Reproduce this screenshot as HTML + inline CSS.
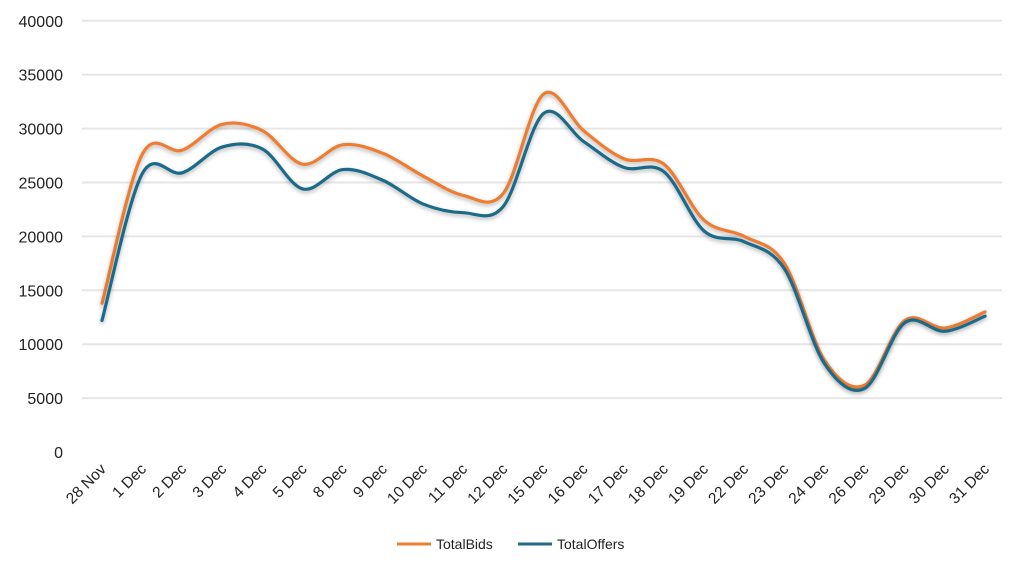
<!DOCTYPE html>
<html><head><meta charset="utf-8"><style>
body{margin:0;background:#fff;}
svg{display:block;font-family:"Liberation Sans",sans-serif;}
</style></head><body>
<svg id="c" width="1024" height="570" xmlns="http://www.w3.org/2000/svg">
<defs><filter id="sh" x="-5%" y="-5%" width="110%" height="120%"><feDropShadow dx="0" dy="2" stdDeviation="2" flood-color="#000" flood-opacity="0.3"/></filter></defs>
<g id="grid"></g><g id="ylab" font-size="16" fill="#222" text-anchor="end"></g>
<g id="xlab" font-size="15.5" fill="#222" text-anchor="end"></g>
<g id="lines"></g>
<g font-size="14" fill="#222">
<line x1="397" y1="544" x2="431" y2="544" stroke="#ED7D31" stroke-width="3"/>
<text x="436" y="549">TotalBids</text>
<line x1="518" y1="544" x2="552" y2="544" stroke="#1F6B8A" stroke-width="3"/>
<text x="557" y="549">TotalOffers</text>
</g>
</svg>
<script>
var NS="http://www.w3.org/2000/svg";
function el(p,t,a,txt){var e=document.createElementNS(NS,t);for(var k in a)e.setAttribute(k,a[k]);if(txt)e.textContent=txt;document.getElementById(p).appendChild(e);return e;}
function Y(v){return 452-v/5000*53.9;}
for(var v=5000;v<=40000;v+=5000){el("grid","line",{x1:82,x2:1002,y1:Y(v),y2:Y(v),stroke:"#e6e6e6","stroke-width":2});}
for(var v=0;v<=40000;v+=5000){el("ylab","text",{x:63,y:Y(v)+6},String(v));}
var L=["28 Nov","1 Dec","2 Dec","3 Dec","4 Dec","5 Dec","8 Dec","9 Dec","10 Dec","11 Dec","12 Dec","15 Dec","16 Dec","17 Dec","18 Dec","19 Dec","22 Dec","23 Dec","24 Dec","26 Dec","29 Dec","30 Dec","31 Dec"];
function X(i){return 102+i*40.14;}
L.forEach(function(s,i){var x=X(i)+5,y=470;el("xlab","text",{x:x,y:y,transform:"rotate(-45 "+x+" "+y+")"},s);});
var B=[13800,27600,28000,30400,29800,26700,28500,27700,25600,23800,24000,33200,29800,27200,26700,21500,20000,17500,8500,6200,12200,11500,13000];
var O=[12200,25800,25900,28300,28100,24400,26200,25200,23000,22200,22800,31400,28800,26400,26000,20500,19500,17000,8200,5900,12000,11200,12600];
function path(d){var p=d.map(function(v,i){return [X(i),Y(v)];});var s="M"+p[0][0]+","+p[0][1];
for(var i=0;i<p.length-1;i++){var p0=p[Math.max(0,i-1)],p1=p[i],p2=p[i+1],p3=p[Math.min(p.length-1,i+2)];
s+=" C"+(p1[0]+(p2[0]-p0[0])/6)+","+(p1[1]+(p2[1]-p0[1])/6)+" "+(p2[0]-(p3[0]-p1[0])/6)+","+(p2[1]-(p3[1]-p1[1])/6)+" "+p2[0]+","+p2[1];}return s;}
el("lines","path",{d:path(B),fill:"none",stroke:"#ED7D31","stroke-width":3.2,filter:"url(#sh)","stroke-linecap":"round"});
el("lines","path",{d:path(O),fill:"none",stroke:"#1F6B8A","stroke-width":3.2,filter:"url(#sh)","stroke-linecap":"round"});
</script>
</body></html>
